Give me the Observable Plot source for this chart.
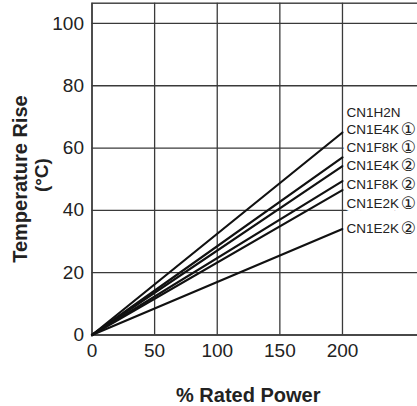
<!DOCTYPE html>
<html>
<head>
<meta charset="utf-8">
<script src="https://cdn.jsdelivr.net/npm/d3@7"></script>
<script src="https://cdn.jsdelivr.net/npm/@observablehq/plot@0.6"></script>
<style>
  html, body { margin: 0; padding: 0; background: #fff; overflow: hidden; }
</style>
</head>
<body>
<div id="chart"></div>
<script>
// Data
const power = [0, 200];                       // % rated power (line start/end)
const seriesNames = ["CN1H2N / CN1E4K①", "CN1F8K①", "CN1E4K②", "CN1F8K②", "CN1E2K①", "CN1E2K②"];
const riseAt200 = [65, 57, 54.2, 49.4, 46.5, 34];   // °C at 200 %
const labelNames = ["CN1H2N", "CN1E4K", "CN1F8K", "CN1E4K", "CN1F8K", "CN1E2K", "CN1E2K"];
const labelNums = ["", "①", "①", "②", "②", "①", "②"];
const labelY = [71.3, 66.0, 60.2, 54.4, 48.3, 42.2, 34.2];
const xTicks = [0, 50, 100, 150, 200];
const yTicks = [0, 20, 40, 60, 80, 100];

const lineData = seriesNames.flatMap((s, i) => [
  {s, x: power[0], y: 0},
  {s, x: power[1], y: riseAt200[i]}
]);
const labelData = labelNames.map((t, i) => ({t, n: labelNums[i], x: power[1], y: labelY[i]}));

const gridColor = "#3a3a3a";
const font = "'Liberation Sans', Arial, Helvetica, sans-serif";
const circOpts = {x: "x", y: "y", text: "n", textAnchor: "middle", dx: 66, dy: 0.5, fontSize: 17, fontFamily: "'DejaVu Sans', sans-serif"};

const chart = Plot.plot({
  width: 417,
  height: 406,
  marginLeft: 91.5,
  marginRight: -3,
  marginTop: 2.7,
  marginBottom: 71.5,
  style: {fontFamily: font, color: "#222", background: "#fff", overflow: "visible"},
  x: {domain: [0, 262.3], ticks: xTicks},
  y: {domain: [0, 106.5], ticks: yTicks},
  marks: [
    Plot.gridX(xTicks, {stroke: gridColor, strokeOpacity: 1, strokeWidth: 1.3}),
    Plot.gridY(yTicks, {stroke: gridColor, strokeOpacity: 1, strokeWidth: 1.3}),
    Plot.frame({stroke: gridColor, strokeWidth: 1.4}),
    Plot.axisX(xTicks, {tickSize: 0, tickPadding: 8, fontSize: 19, label: null, fill: "#222"}),
    Plot.axisY(yTicks, {tickSize: 0, tickPadding: 8, fontSize: 19, label: null, fill: "#222"}),
    Plot.line(lineData, {x: "x", y: "y", z: "s", stroke: "#111", strokeWidth: 2.2}),
    Plot.text(labelData, {...circOpts, fill: "white", stroke: "white", strokeWidth: 13}),
    Plot.text(labelData, {x: "x", y: "y", text: "t", textAnchor: "start", dx: 4, fontSize: 13.5, fill: "#222", stroke: "white", strokeWidth: 7, paintOrder: "stroke"}),
    Plot.text(labelData, {...circOpts, fill: "#222"}),
    Plot.text(["Temperature Rise"], {frameAnchor: "left", textAnchor: "middle", lineAnchor: "middle", rotate: -90, dx: -71, dy: 10, fontSize: 20, fontWeight: "bold", fill: "#222"}),
    Plot.text(["(°C)"], {frameAnchor: "left", textAnchor: "middle", lineAnchor: "middle", rotate: -90, dx: -50, dy: 6, fontSize: 19, fontWeight: "bold", fill: "#222"}),
    Plot.text(["% Rated Power"], {frameAnchor: "bottom", textAnchor: "middle", lineAnchor: "middle", dx: -8, dy: 60.5, fontSize: 20, fontWeight: "bold", fill: "#222"})
  ]
});
document.getElementById("chart").appendChild(chart);
</script>
</body>
</html>
